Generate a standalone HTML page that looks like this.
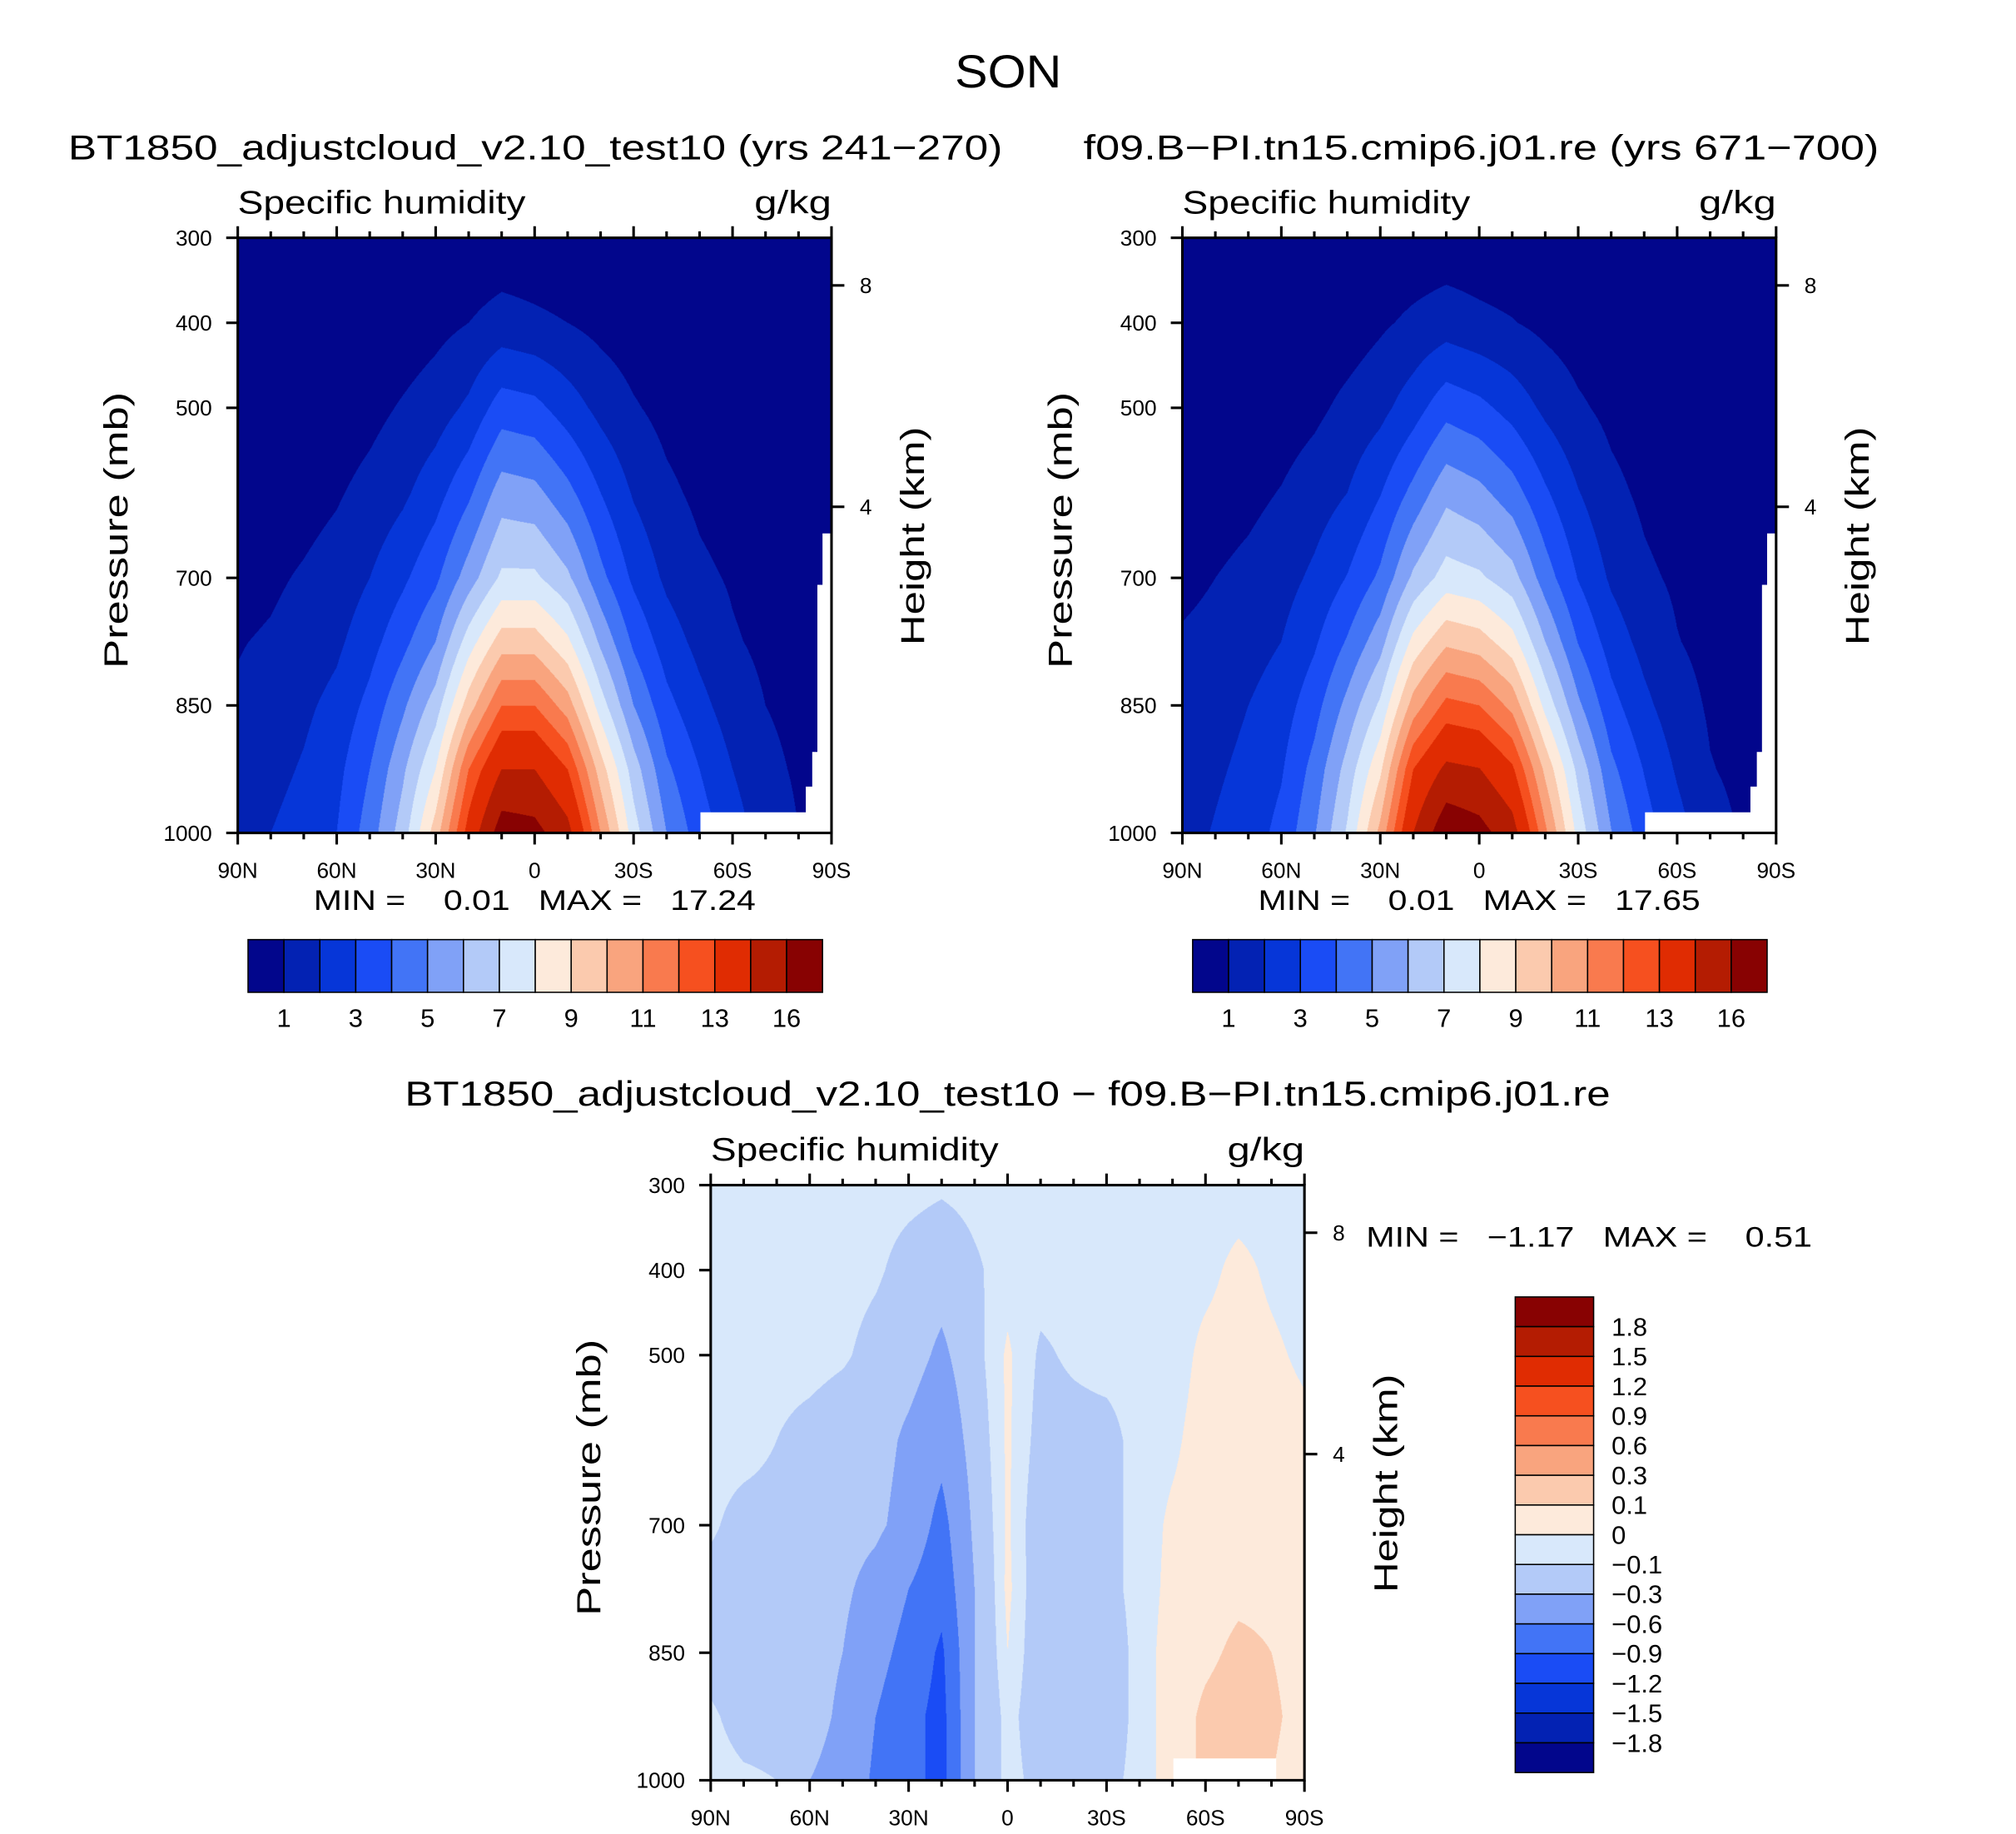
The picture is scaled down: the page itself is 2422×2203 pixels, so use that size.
<!DOCTYPE html>
<html><head><meta charset="utf-8">
<style>
html,body{margin:0;padding:0;background:#fff;overflow:hidden;}
#wrap{position:absolute;left:0;top:0;width:1570px;height:1427px;transform:scale(1.5440,1.5440);transform-origin:0 0;font-family:"Liberation Sans",sans-serif;}
canvas{position:absolute;}
svg{position:absolute;left:0;top:0;}
text{font-family:"Liberation Sans",sans-serif;fill:#000;white-space:pre;}
</style></head>
<body>
<div id="wrap">
<canvas id="c1" style="left:185px;top:185px;width:462px;height:463px" width="924" height="926"></canvas>
<canvas id="c2" style="left:920px;top:185px;width:462px;height:463px" width="924" height="926"></canvas>
<canvas id="c3" style="left:553px;top:922px;width:462px;height:463px" width="924" height="926"></canvas>
<svg id="svg" width="1570" height="1427" viewBox="0 0 1570 1427">
<text x="743" y="68" font-size="36" textLength="83" lengthAdjust="spacingAndGlyphs">SON</text>
<text x="53" y="124" font-size="27" textLength="727" lengthAdjust="spacingAndGlyphs">BT1850_adjustcloud_v2.10_test10 (yrs 241−270)</text>
<text x="843" y="124" font-size="27" textLength="619" lengthAdjust="spacingAndGlyphs">f09.B−PI.tn15.cmip6.j01.re (yrs 671−700)</text>
<text x="315" y="860" font-size="27" textLength="938" lengthAdjust="spacingAndGlyphs">BT1850_adjustcloud_v2.10_test10 − f09.B−PI.tn15.cmip6.j01.re</text>
</svg>
</div>
<script>
// ---- data ----
const lats = [90,80,70,60,50,40,30,20,10,0,-10,-20,-30,-40,-50,-60,-70,-80,-90];
const latLabels = ['90N','60N','30N','0','30S','60S','90S'];
const levels = [300,400,500,600,700,775,850,925,1000];
const pTicks = [300,400,500,700,850,1000];
const hTicks = [8,4];
const qTest = [
 [0.03,0.03,0.04,0.05,0.07,0.1,0.15,0.22,0.3,0.28,0.22,0.15,0.1,0.07,0.05,0.04,0.03,0.03,0.03],
 [0.1,0.1,0.12,0.15,0.25,0.4,0.7,1.0,1.4,1.2,1.0,0.7,0.45,0.3,0.2,0.12,0.1,0.08,0.07],
 [0.2,0.25,0.3,0.45,0.7,1.1,1.5,2.2,3.5,3.3,2.5,1.7,1.1,0.7,0.45,0.3,0.2,0.15,0.12],
 [0.4,0.5,0.65,0.9,1.3,1.8,2.6,3.8,5.5,5.3,4.3,3,1.9,1.2,0.8,0.55,0.4,0.3,0.25],
 [0.7,0.85,1.1,1.4,2,2.8,3.8,5.5,7.2,7.2,6.2,4.3,2.8,1.8,1.2,0.9,0.6,0.5,0.4],
 [0.95,1.1,1.4,1.8,2.6,3.7,5,7.5,9.5,9.5,8.2,5.8,3.8,2.5,1.7,1.1,0.8,0.6,0.5],
 [1.1,1.4,1.8,2.3,3.3,4.8,6.5,9.5,12,12,10.5,7.5,5,3.3,2.3,1.5,1.0,0.8,0.6],
 [1.3,1.7,2.1,2.7,4,5.8,8,12,14.5,14.5,13,9.5,6.5,4.2,3,2,1.2,0.9,0.7],
 [1.6,2.0,2.4,3.0,4.5,6.5,9.5,13.5,16.8,16.5,15,11,7.5,5,3.5,2.5,1.5,1.0,0.8]
];
const qDiff = [
 [-0.05,-0.05,-0.05,-0.05,-0.05,-0.05,-0.06,-0.08,-0.06,-0.05,-0.05,-0.05,-0.05,-0.05,-0.05,-0.05,-0.05,-0.05,-0.05],
 [-0.05,-0.05,-0.05,-0.05,-0.05,-0.08,-0.15,-0.2,-0.12,-0.05,-0.05,-0.05,-0.05,-0.05,-0.05,-0.03,0.03,-0.02,-0.05],
 [-0.05,-0.05,-0.05,-0.05,-0.08,-0.15,-0.2,-0.35,-0.15,0.02,-0.12,-0.08,-0.05,-0.05,-0.05,0.03,0.05,0.02,-0.02],
 [-0.05,-0.05,-0.1,-0.15,-0.2,-0.2,-0.35,-0.5,-0.2,0.02,-0.15,-0.15,-0.15,-0.05,-0.02,0.05,0.06,0.05,0.03],
 [-0.08,-0.15,-0.15,-0.2,-0.2,-0.25,-0.4,-0.7,-0.25,0.02,-0.2,-0.2,-0.15,-0.05,0.02,0.05,0.08,0.06,0.04],
 [-0.15,-0.15,-0.2,-0.2,-0.25,-0.4,-0.6,-0.8,-0.3,0.03,-0.2,-0.2,-0.15,-0.05,0.03,0.06,0.08,0.08,0.05],
 [-0.15,-0.2,-0.2,-0.2,-0.3,-0.5,-0.7,-0.95,-0.3,0.0,-0.2,-0.2,-0.2,-0.05,0.05,0.08,0.12,0.1,0.06],
 [-0.08,-0.15,-0.15,-0.2,-0.35,-0.6,-0.8,-1.0,-0.3,-0.05,-0.2,-0.25,-0.2,-0.05,0.05,0.12,0.15,0.12,0.06],
 [-0.05,-0.08,-0.1,-0.3,-0.4,-0.65,-0.8,-1.0,-0.3,-0.05,-0.15,-0.25,-0.15,-0.05,0.05,0.12,0.12,0.1,0.05]
];
const qBounds = [1,2,3,4,5,6,7,8,9,10,11,12,13,14.5,16];
const qLabels = ['1','3','5','7','9','11','13','16'];
const dBounds = [-1.8,-1.5,-1.2,-0.9,-0.6,-0.3,-0.1,0,0.1,0.3,0.6,0.9,1.2,1.5,1.8];
const dLabels = ['1.8','1.5','1.2','0.9','0.6','0.3','0.1','0','−0.1','−0.3','−0.6','−0.9','−1.2','−1.5','−1.8'];
const colors = ['#02068c','#0322b3','#0636d8','#1a4cf5','#4274f6','#80a1f7','#b3caf8','#d8e8fb','#fdeadb','#fbcaae','#f9a47e','#f97a4e','#f6501f','#e02c02','#b41c02','#880202'];
const qRight = qTest.map((row,i)=>row.map((v,j)=>v - qDiff[i][j]));

// ---- drawing ----
const P = {w:462,h:463};
function yOfP(p){return (p-300)/700*P.h;}
function xOfLat(l){return (90-l)/180*P.w;}
function pOfH(h){return 1013.25*Math.pow(1-2.25577e-5*h*1000,5.25588);}
function sample(grid,lat,p){
  let fj=(90-lat)/10; let j=Math.min(17,Math.floor(fj)); let tj=fj-j;
  let i=0; while(i<levels.length-2 && p>levels[i+1]) i++;
  let ti=(p-levels[i])/(levels[i+1]-levels[i]);
  const a=grid[i][j]*(1-tj)+grid[i][j+1]*tj, b=grid[i+1][j]*(1-tj)+grid[i+1][j+1]*tj;
  return a*(1-ti)+b*ti;
}
function hex(c){return [parseInt(c.substr(1,2),16),parseInt(c.substr(3,2),16),parseInt(c.substr(5,2),16)];}
const rgb=colors.map(hex);
function drawField(id,grid,bounds){
  const cv=document.getElementById(id),ctx=cv.getContext('2d');
  const W=cv.width,H=cv.height,img=ctx.createImageData(W,H);
  for(let y=0;y<H;y++){const p=300+(y+0.5)/H*700;
    for(let x=0;x<W;x++){const lat=90-(x+0.5)/W*180;
      const v=sample(grid,lat,p); let k=0; while(k<bounds.length && v>=bounds[k]) k++;
      const c=rgb[k],o=(y*W+x)*4; img.data[o]=c[0];img.data[o+1]=c[1];img.data[o+2]=c[2];img.data[o+3]=255;}}
  ctx.putImageData(img,0,0);
}
drawField('c1',qTest,qBounds);
drawField('c2',qRight,qBounds);
drawField('c3',qDiff,dBounds);

const svg=document.getElementById('svg'),NS='http://www.w3.org/2000/svg';
function el(tag,attrs,txt){const e=document.createElementNS(NS,tag);for(const k in attrs)e.setAttribute(k,attrs[k]);if(txt!==undefined)e.textContent=txt;svg.appendChild(e);return e;}

function panel(ox,oy,name,minmax,mmx,mmy,mmw,maskPts){
  if(maskPts){const m=el('polygon',{points:maskPts.map(p=>(ox+p[0])+','+(oy+p[1])).join(' '),fill:'#fff'});
    
    }
  const f=el('rect',{x:ox,y:oy,width:P.w,height:P.h,fill:'none',stroke:'#000','stroke-width':2});
  
  
  for(let l=90;l>=-90;l-=10){const x=ox+xOfLat(l),len=(l%30===0)?9:5;
    const t1=el('line',{x1:x,y1:oy+P.h,x2:x,y2:oy+P.h+len,stroke:'#000','stroke-width':2});
    
    
    const t2=el('line',{x1:x,y1:oy,x2:x,y2:oy-len,stroke:'#000','stroke-width':2});
    
    }
  latLabels.forEach((s,i)=>{const t=el('text',{x:ox+i*P.w/6,y:oy+P.h+35,'font-size':17,'text-anchor':'middle'},s);
    
    });
  pTicks.forEach(p=>{const y=oy+yOfP(p);
    const t=el('line',{x1:ox-9,y1:y,x2:ox,y2:y,stroke:'#000','stroke-width':2});
    
    
    const l=el('text',{x:ox-20,y:y+6,'font-size':17,'text-anchor':'end'},String(p));
    
    });
  hTicks.forEach(h=>{const y=oy+yOfP(pOfH(h));
    const t=el('line',{x1:ox+P.w,y1:y,x2:ox+P.w+10,y2:y,stroke:'#000','stroke-width':2});
    
    
    const l=el('text',{x:ox+P.w+22,y:y+6,'font-size':17},String(h));
    
    });
  const yt=el('text',{transform:`translate(${ox-86},${oy+335}) rotate(-90)`,'font-size':26,textLength:215,lengthAdjust:'spacingAndGlyphs'},'Pressure (mb)');
  
  
  const ht=el('text',{transform:`translate(${ox+P.w+72},${oy+317}) rotate(-90)`,'font-size':26,textLength:170,lengthAdjust:'spacingAndGlyphs'},'Height (km)');
  
  
  const vt=el('text',{x:ox,y:oy-19,'font-size':25,textLength:224,lengthAdjust:'spacingAndGlyphs'},'Specific humidity');
  
  
  const ut=el('text',{x:ox+P.w-60,y:oy-19,'font-size':25,textLength:60,lengthAdjust:'spacingAndGlyphs'},'g/kg');
  
  
  const mm=el('text',{x:mmx,y:mmy,'font-size':22,textLength:mmw,lengthAdjust:'spacingAndGlyphs'},minmax);
  
  
}
const mask=[[360,447],[442,447],[442,427],[447,427],[447,400],[451,400],[451,270],[455,270],[455,230],[462,230],[462,463],[360,463]];
panel(185,185,'left','MIN =    0.01   MAX =   17.24',244,708,344,mask);
panel(920,185,'right','MIN =    0.01   MAX =   17.65',979,708,344,mask);
panel(553,922,'diff','MIN =   −1.17   MAX =    0.51',1063,970,347,[[360,446],[440,446],[440,463],[360,463]]);

function hbar(ox,name){
  const bw=447/16;
  colors.forEach((c,i)=>{const r=el('rect',{x:ox+i*bw,y:731,width:bw,height:41,fill:c,stroke:'#000','stroke-width':1});
    
    });
  qLabels.forEach((s,i)=>{const t=el('text',{x:ox+(2*i+1)*bw,y:799,'font-size':20,'text-anchor':'middle'},s);
    
    });
}
hbar(193,'left');hbar(928,'right');
const bh=370/16;
colors.slice().reverse().forEach((c,i)=>{const r=el('rect',{x:1179,y:1009+i*bh,width:61,height:bh,fill:c,stroke:'#000','stroke-width':1});
  
  });
dLabels.forEach((s,i)=>{const t=el('text',{x:1254,y:1009+(i+1)*bh+7,'font-size':20},s);
  
  });
</script>
</body></html>
